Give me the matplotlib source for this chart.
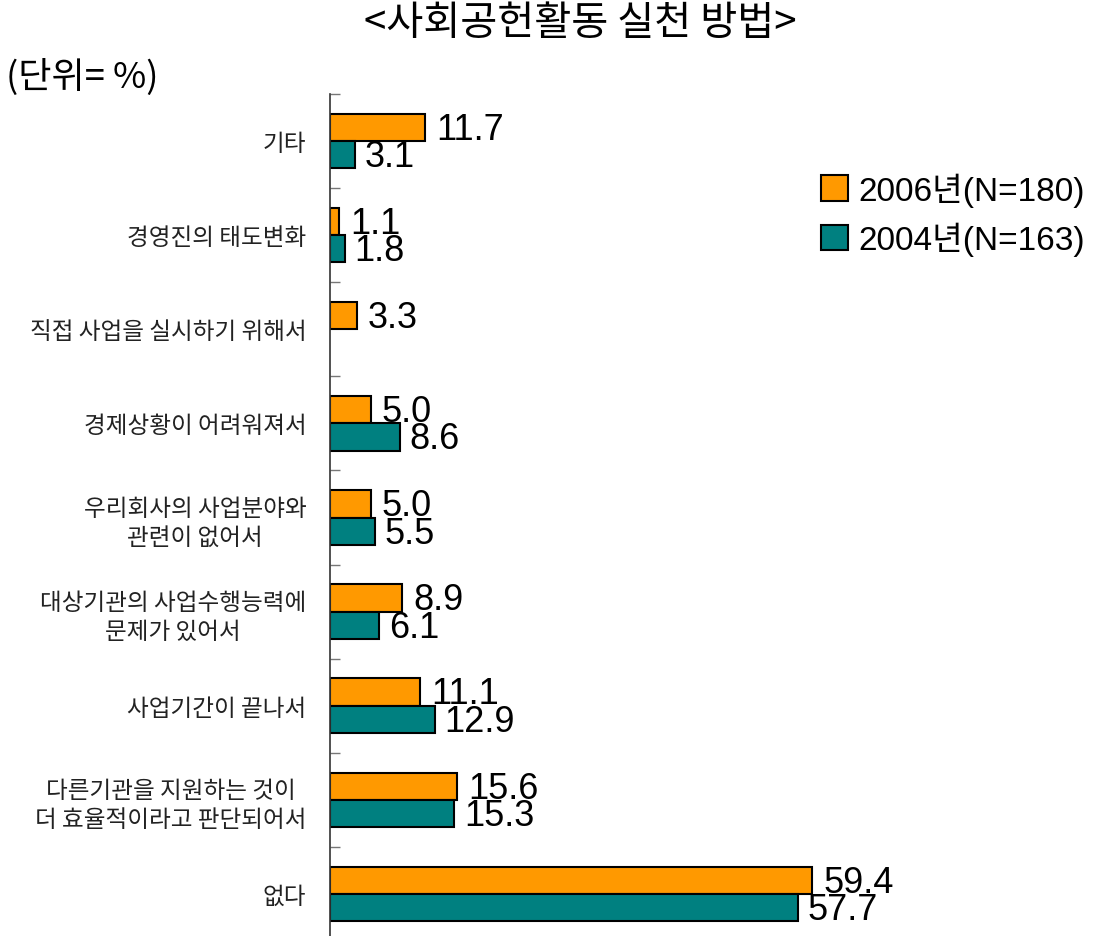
import numpy as np
import matplotlib.pyplot as plt
from matplotlib.patches import Patch

# 응답 항목 (위에서 아래 순서)
categories = ['기타', '경영진의 태도변화', '직접 사업을 실시하기 위해서', '경제상황이 어려워져서',
              '우리회사의 사업분야와\n관련이 없어서', '대상기관의 사업수행능력에\n문제가 있어서',
              '사업기간이 끝나서', '다른기관을 지원하는 것이\n더 효율적이라고 판단되어서', '없다']
y2006 = [11.7, 1.1, 3.3, 5.0, 5.0, 8.9, 11.1, 15.6, 59.4]
y2004 = [3.1, 1.8, np.nan, 8.6, 5.5, 6.1, 12.9, 15.3, 57.7]
series_labels = ['2006년(N=180)', '2004년(N=163)']

KR = 'Noto Sans CJK KR'
NUM = ['Liberation Sans', 'Noto Sans CJK KR']

W, H = 1096, 937
fig = plt.figure(figsize=(W / 100, H / 100), dpi=100)
# 축: 왼쪽 x=330px, 위 y=95px, 아래는 그림 밖 942px
ax = fig.add_axes([330 / W, -5 / H, 0.55, (942 - 95) / H])

y = np.arange(len(categories))
h = 0.29
ax.barh(y - h / 2, y2006, height=h, color='#FF9900', edgecolor='black', linewidth=1.5)
ax.barh(y + h / 2, y2004, height=h, color='#008080', edgecolor='black', linewidth=1.5)

for i in range(len(categories)):
    ax.text(y2006[i] + 1.4, y[i] - h / 2 + 0.02, f'{y2006[i]:.1f}', va='center', ha='left',
            fontsize=26, family=NUM)
    if not np.isnan(y2004[i]):
        ax.text(y2004[i] + 1.2, y[i] + h / 2 + 0.02, f'{y2004[i]:.1f}', va='center', ha='left',
                fontsize=26, family=NUM)

ax.set_xlim(0, 0.55 * W / 8.11)
ax.set_ylim(len(categories) - 0.5, -0.5)

ax.set_yticks(y)
ax.set_yticklabels(categories, fontsize=17, family=KR, fontweight='light', linespacing=1.3)
for t in ax.get_yticklabels():
    t.set_multialignment('center')
ax.set_yticks(np.arange(-0.5, len(categories)), minor=True)
ax.tick_params(axis='y', which='major', length=0, pad=17, labelcolor='#222222')
ax.tick_params(axis='y', which='minor', direction='in', length=7, color='#777777', width=1)
ax.set_xticks([])

for s in ['top', 'right', 'bottom']:
    ax.spines[s].set_visible(False)
ax.spines['left'].set_color('#333333')
ax.spines['left'].set_linewidth(1.2)

fig.text(580 / W, 1 - 23 / H, '<사회공헌활동 실천 방법>', ha='center', va='center',
         fontsize=29, family=KR, fontweight='light')
fig.text(6 / W, 1 - 77 / H, '(단위= %)', ha='left', va='center', fontsize=26, family=KR,
         fontweight='light')

handles = [Patch(facecolor='#FF9900', edgecolor='black', linewidth=1.5),
           Patch(facecolor='#008080', edgecolor='black', linewidth=1.5)]
fig.legend(handles, series_labels, loc='upper left', bbox_to_anchor=(808 / W, 1 - 160 / H),
           frameon=False, prop={'family': NUM, 'size': 24}, handlelength=0.8, handleheight=0.8,
           handletextpad=0.3, labelspacing=0.45, borderaxespad=0)

fig.savefig('out.png', dpi=100)
